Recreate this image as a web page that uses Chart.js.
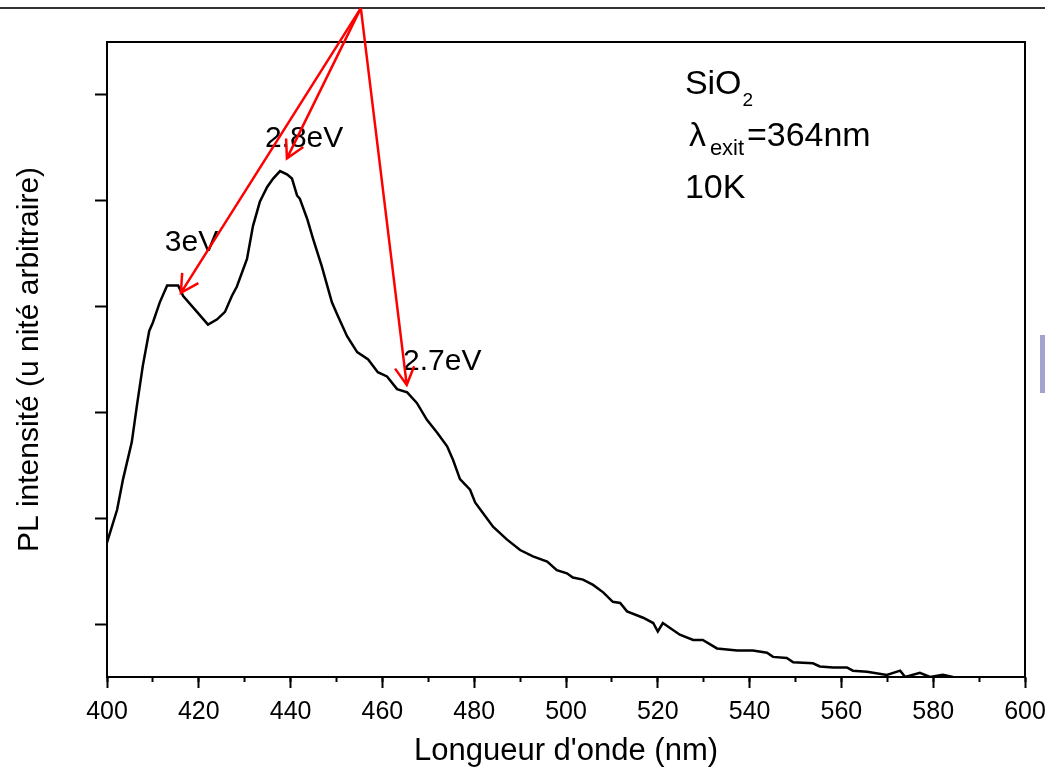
<!DOCTYPE html>
<html lang="fr">
<head>
<meta charset="UTF-8">
<title>PL SiO2 10K</title>
<script src="https://cdn.jsdelivr.net/npm/chart.js@4.4.0/dist/chart.umd.min.js"></script>
<style>
  body { margin: 0; background: #fff; }
  #contenedor { position: relative; width: 1045px; height: 770px; overflow: hidden; }
  #lineaSuperior { position: absolute; left: 0; top: 7px; width: 1045px; height: 2px; background: #333; }
  #marcaLateral { position: absolute; left: 1040px; top: 335px; width: 6px; height: 58px; background: #a3a3d1; }
  canvas { position: absolute; left: 0; top: 0; }
</style>
</head>
<body>
<div id="contenedor">
  <div id="lineaSuperior"></div>
  <div id="marcaLateral"></div>
  <canvas id="myChart" width="1045" height="770"></canvas>
</div>
<script>
// DONNEES
const longueurs = [400.0, 402.2, 403.5, 405.4, 406.5, 407.8, 409.2, 410.0, 411.5, 413.1,
    415.5, 416.6, 419.6, 422.0, 424.0, 425.7, 427.2, 428.3, 430.5, 431.8,
    433.3, 434.9, 436.2, 437.7, 439.2, 440.3, 441.4, 442.0, 443.6, 444.9,
    446.8, 449.0, 450.3, 452.3, 454.5, 456.9, 459.0, 461.0, 463.2, 465.4,
    467.5, 469.7, 471.9, 474.1, 475.4, 476.9, 479.1, 480.2, 481.9, 484.1,
    487.1, 490.0, 492.8, 495.9, 498.0, 500.2, 501.5, 503.7, 505.9, 508.1,
    510.2, 511.8, 513.3, 516.8, 519.0, 520.0, 521.1, 524.8, 527.7, 529.8,
    532.9, 537.3, 540.7, 543.8, 545.1, 548.1, 549.5, 553.8, 555.3, 558.2,
    561.2, 562.5, 565.6, 569.9, 572.8, 573.9, 577.1, 579.3, 582.1, 584.3];
const intensites = [1.27, 1.58, 1.87, 2.22, 2.56, 2.94, 3.27, 3.35, 3.54, 3.70,
    3.70, 3.60, 3.45, 3.33, 3.38, 3.45, 3.60, 3.69, 3.95, 4.26,
    4.49, 4.63, 4.71, 4.78, 4.75, 4.71, 4.55, 4.52, 4.33, 4.14,
    3.88, 3.54, 3.41, 3.22, 3.07, 3.00, 2.88, 2.84, 2.72, 2.69,
    2.59, 2.43, 2.31, 2.18, 2.05, 1.87, 1.77, 1.65, 1.55, 1.42,
    1.30, 1.20, 1.14, 1.09, 1.01, 0.98, 0.94, 0.92, 0.87, 0.80,
    0.71, 0.70, 0.62, 0.56, 0.51, 0.43, 0.51, 0.40, 0.35, 0.35,
    0.27, 0.25, 0.25, 0.23, 0.19, 0.18, 0.14, 0.13, 0.10, 0.09,
    0.09, 0.06, 0.05, 0.02, 0.06, 0.00, 0.04, 0.00, 0.02, 0.00];

const limitesX = [400, 600];
const limitesY = [0, 6];
const ticksY = [0.5, 1.5, 2.5, 3.5, 4.5, 5.5];

// pics : texte, pointe de la fleche, position du texte
const picsTexte = ["3eV", "2.8eV", "2.7eV"];
const picsX = [416.1, 439.2, 465.3];
const picsY = [3.63, 4.90, 2.76];
const etiquettesX = [412.6, 434.4, 464.5];
const etiquettesY = [4.10, 5.09, 2.98];
const origineFleche = [455.3, 6.32];

const police = "'Liberation Sans', Arial, sans-serif";

// PLUGINS
const cadre = {
    id: "cadre",
    afterDraw(chart) {
        const { ctx, chartArea } = chart;
        ctx.save();
        ctx.strokeStyle = "#000";
        ctx.lineWidth = 2;
        ctx.strokeRect(chartArea.left, chartArea.top, chartArea.right - chartArea.left, chartArea.bottom - chartArea.top);
        ctx.restore();
    }
};

function dessinerFleche(ctx, x0, y0, x1, y1) {
    let angle = Math.atan2(y1 - y0, x1 - x0);
    let longueurTete = 20;
    let ouverture = 0.5;
    ctx.beginPath();
    ctx.moveTo(x0, y0);
    ctx.lineTo(x1, y1);
    ctx.moveTo(x1 - longueurTete * Math.cos(angle - ouverture), y1 - longueurTete * Math.sin(angle - ouverture));
    ctx.lineTo(x1, y1);
    ctx.lineTo(x1 - longueurTete * Math.cos(angle + ouverture), y1 - longueurTete * Math.sin(angle + ouverture));
    ctx.stroke();
}

const annotations = {
    id: "annotations",
    afterDraw(chart) {
        const ctx = chart.ctx;
        const sx = chart.scales.x;
        const sy = chart.scales.y;
        ctx.save();

        // textes des pics
        ctx.fillStyle = "#000";
        ctx.textBaseline = "middle";
        ctx.textAlign = "left";
        ctx.font = "30px " + police;
        for (let i = 0; i < picsTexte.length; i++) {
            ctx.fillText(picsTexte[i], sx.getPixelForValue(etiquettesX[i]), sy.getPixelForValue(etiquettesY[i]));
        }

        // fleches rouges
        ctx.strokeStyle = "#ff0000";
        ctx.lineWidth = 2.5;
        let ox = sx.getPixelForValue(origineFleche[0]);
        let oy = sy.getPixelForValue(origineFleche[1]);
        for (let i = 0; i < picsX.length; i++) {
            dessinerFleche(ctx, ox, oy, sx.getPixelForValue(picsX[i]), sy.getPixelForValue(picsY[i]));
        }

        // legende interne
        let gx = sx.getPixelForValue(525.9);
        let gy = sy.getPixelForValue(5.60);
        ctx.font = "34px " + police;
        ctx.fillText("SiO", gx, gy);
        let w = ctx.measureText("SiO").width;
        ctx.font = "19px " + police;
        ctx.fillText("2", gx + w + 1, gy + 16);

        let ly = gy + 52;
        ctx.font = "34px " + police;
        ctx.fillText("λ", gx + 4, ly);
        ctx.font = "22px " + police;
        ctx.fillText("exit", gx + 25, ly + 13);
        ctx.font = "34px " + police;
        ctx.fillText("=364nm", gx + 62, ly);

        ctx.fillText("10K", gx, gy + 104);
        ctx.restore();
    }
};

// GRAPHIQUE
const points = longueurs.map((l, i) => ({ x: l, y: intensites[i] }));

const config = {
    type: "line",
    data: {
        datasets: [{
            data: points,
            borderColor: "#000",
            borderWidth: 2.5,
            pointRadius: 0,
            tension: 0,
            fill: false
        }]
    },
    options: {
        responsive: false,
        animation: false,
        devicePixelRatio: 1,
        layout: { padding: { top: 42, right: 20, left: 0, bottom: 0 } },
        plugins: { legend: { display: false }, tooltip: { enabled: false } },
        scales: {
            x: {
                type: "linear",
                position: "bottom",
                min: limitesX[0],
                max: limitesX[1],
                afterFit: (scale) => {
                    scale.height = 93;
                    scale.paddingLeft = 0;
                    scale.paddingRight = 0;
                },
                ticks: { stepSize: 20, color: "#000", padding: 9, font: { size: 25, family: police } },
                grid: { drawOnChartArea: false, tickLength: 11, tickWidth: 2, tickColor: "#000" },
                border: { color: "#000", width: 2 },
                title: { display: true, text: "Longueur d'onde (nm)", color: "#000", padding: { top: 0, bottom: 0 }, font: { size: 31, family: police } }
            },
            xMineur: {
                type: "linear",
                position: { y: 0 },
                min: limitesX[0],
                max: limitesX[1],
                afterFit: (scale) => {
                    scale.paddingLeft = 0;
                    scale.paddingRight = 0;
                },
                ticks: { stepSize: 10, display: false },
                grid: { drawOnChartArea: false, tickLength: 5, tickWidth: 2, tickColor: "#000" },
                border: { display: false }
            },
            y: {
                min: limitesY[0],
                max: limitesY[1],
                afterBuildTicks: (scale) => { scale.ticks = ticksY.map(v => ({ value: v })); },
                afterFit: (scale) => {
                    scale.width = 107;
                    scale.paddingTop = 0;
                    scale.paddingBottom = 0;
                },
                ticks: { display: false },
                grid: { drawOnChartArea: false, tickLength: 12, tickWidth: 2, tickColor: "#000" },
                border: { color: "#000", width: 2 },
                title: { display: true, text: "PL intensité (u nité arbitraire)", color: "#000", padding: { top: 12, bottom: 0 }, font: { size: 30, family: police } }
            }
        }
    },
    plugins: [cadre, annotations]
};

const myChart = new Chart(document.getElementById("myChart"), config);
</script>
</body>
</html>
